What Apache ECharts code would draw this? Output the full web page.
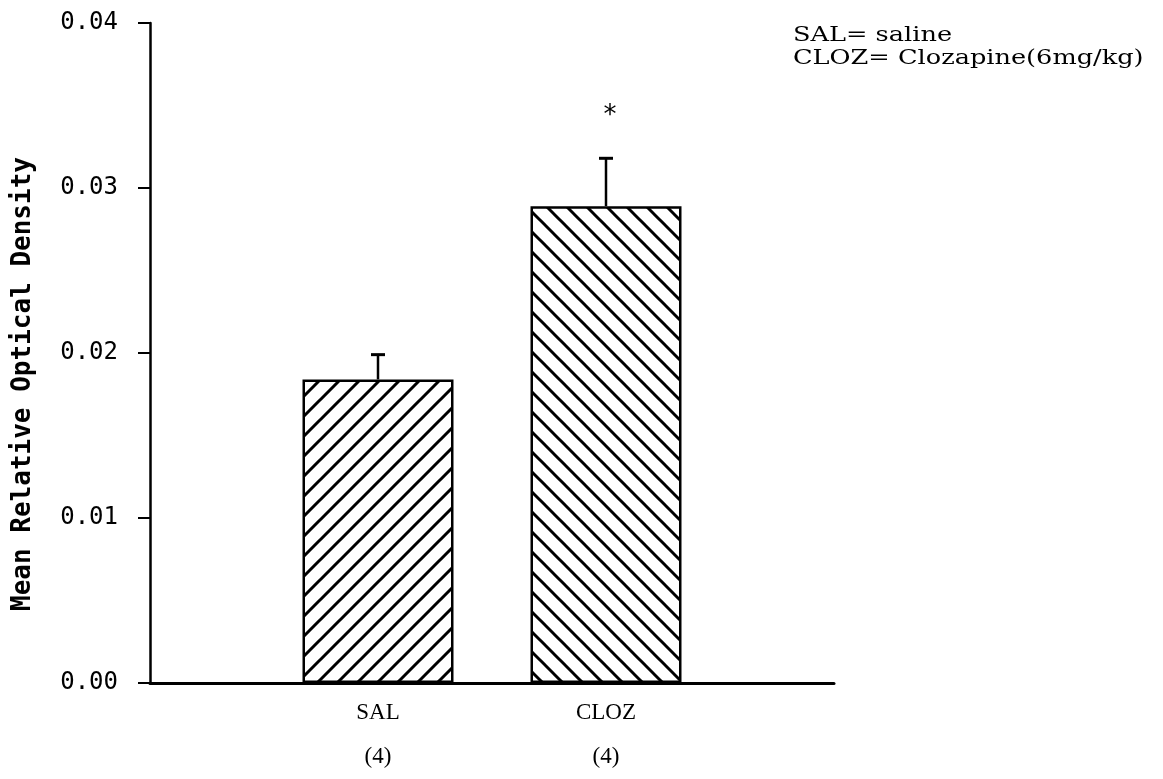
<!DOCTYPE html>
<html>
<head>
<meta charset="utf-8">
<script src="https://cdn.jsdelivr.net/npm/echarts@6/dist/echarts.min.js"></script>
<style>
  html, body { margin: 0; padding: 0; background: #fff; }
  #chart { width: 1163px; height: 779px; }
</style>
</head>
<body>
<div id="chart"></div>
<script>
// Treatment groups (blank slots pad the axis on both sides)
const categories = ['', 'SAL', 'CLOZ', ''];
const groupSizes = ['', '(4)', '(4)', ''];
// Mean relative optical density and upper end of the error bar (mean + SEM)
const meanValues = [null, 0.0184, 0.0289, null];
const errorTops = [null, 0.0199, 0.0318, null];
// Significance marks above each error bar
const sigMarks = ['', '', '*', ''];
// Y axis ticks
const yTicks = [0, 0.01, 0.02, 0.03, 0.04];
const yAxisTitle = 'Mean Relative Optical Density';
const legendLines = ['SAL= saline', 'CLOZ= Clozapine(6mg/kg)'];

// Diagonal hatch tiles: "/" for saline, "\" for clozapine
function hatchTile(forward) {
  const s = 20;
  const c = document.createElement('canvas');
  c.width = s; c.height = s;
  const g = c.getContext('2d');
  g.fillStyle = '#fff';
  g.fillRect(0, 0, s, s);
  g.strokeStyle = '#000';
  g.lineWidth = 3;
  g.lineCap = 'square';
  const offs = [-s, 0, s];
  offs.forEach(function (o) {
    g.beginPath();
    if (forward) {
      g.moveTo(o, s); g.lineTo(o + s, 0);
    } else {
      g.moveTo(o, 0); g.lineTo(o + s, s);
    }
    g.stroke();
  });
  return c;
}
const hatchFwd = hatchTile(true);
const hatchBack = hatchTile(false);

const chart = echarts.init(document.getElementById('chart'), null, { renderer: 'canvas' });

const barData = meanValues.map(function (v, i) {
  if (v === null) return null;
  return {
    value: v,
    itemStyle: {
      color: { image: i === 1 ? hatchFwd : hatchBack, repeat: 'repeat' },
      borderColor: '#000',
      borderWidth: 2.5
    }
  };
});

const errData = [];
errorTops.forEach(function (t, i) {
  if (t !== null) errData.push([i, meanValues[i], t, sigMarks[i]]);
});

function legendText(text, y) {
  return {
    type: 'text',
    x: 793, y: y,
    scaleX: 1.28,
    style: {
      text: text,
      fontFamily: 'DejaVu Serif',
      fontSize: 20,
      fill: '#000',
      align: 'left',
      verticalAlign: 'middle'
    }
  };
}

const option = {
  backgroundColor: '#fff',
  animation: false,
  grid: { left: 150, right: 329, top: 23, bottom: 95 },
  xAxis: {
    type: 'category',
    data: categories,
    boundaryGap: false,
    axisTick: { show: false },
    axisLine: { lineStyle: { color: '#000', width: 3 } },
    axisLabel: {
      interval: 0,
      margin: 8,
      color: '#000',
      fontFamily: 'Liberation Serif',
      fontSize: 23,
      lineHeight: 44,
      formatter: function (v, i) {
        return v ? v + '\n' + groupSizes[i] : '';
      }
    },
    splitLine: { show: false }
  },
  yAxis: {
    type: 'value',
    min: yTicks[0],
    max: yTicks[yTicks.length - 1],
    interval: 0.01,
    axisLine: { show: true, lineStyle: { color: '#000', width: 2.5 } },
    axisTick: { show: true, length: 12, lineStyle: { color: '#000', width: 2 } },
    axisLabel: {
      margin: 32,
      color: '#000',
      fontFamily: 'DejaVu Sans Mono',
      fontSize: 24,
      formatter: function (v) { return v.toFixed(2); }
    },
    splitLine: { show: false }
  },
  graphic: [
    {
      type: 'text',
      x: 23, y: 384,
      rotation: Math.PI / 2,
      style: {
        text: yAxisTitle,
        fontFamily: 'DejaVu Sans Mono',
        fontWeight: 'bold',
        fontSize: 26,
        fill: '#000',
        align: 'center',
        verticalAlign: 'middle'
      }
    },
    legendText(legendLines[0], 36),
    legendText(legendLines[1], 59)
  ],
  series: [
    {
      type: 'bar',
      data: barData,
      barWidth: 151,
      z: 2
    },
    {
      type: 'custom',
      data: errData,
      z: 3,
      renderItem: function (params, api) {
        const x = api.value(0);
        const base = api.coord([x, api.value(1)]);
        const top = api.coord([x, api.value(2)]);
        const mark = errData[params.dataIndex][3];
        const capHalf = 7;
        const children = [
          {
            type: 'line',
            shape: { x1: base[0], y1: base[1], x2: top[0], y2: top[1] },
            style: { stroke: '#000', lineWidth: 2.5 }
          },
          {
            type: 'line',
            shape: { x1: top[0] - capHalf, y1: top[1], x2: top[0] + capHalf, y2: top[1] },
            style: { stroke: '#000', lineWidth: 3 }
          }
        ];
        if (mark) {
          children.push({
            type: 'text',
            x: top[0] + 4,
            y: top[1] - 42,
            style: {
              text: mark,
              fontFamily: 'DejaVu Sans',
              fontSize: 26,
              fill: '#000',
              align: 'center',
              verticalAlign: 'middle'
            }
          });
        }
        return { type: 'group', children: children };
      }
    }
  ]
};

chart.setOption(option);
</script>
</body>
</html>
